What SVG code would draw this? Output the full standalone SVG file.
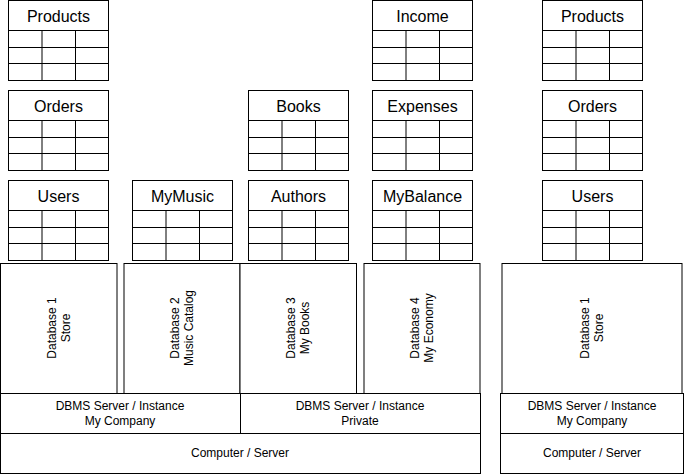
<svg xmlns="http://www.w3.org/2000/svg" xmlns:xlink="http://www.w3.org/1999/xlink" width="685" height="475" viewBox="0 0 685 475">
<style>
.b{fill:#fff;stroke:#000;stroke-width:1}
.g{fill:none;stroke:#000;stroke-width:1}
.h{font-family:"Liberation Sans",Arial,sans-serif;font-size:16px;fill:#000;text-anchor:middle}
.t{font-family:"Liberation Sans",Arial,sans-serif;font-size:12px;fill:#000;text-anchor:middle}
</style>
<defs>
<g id="tbl">
<rect class="b" x="0.5" y="0.5" width="100" height="80"/>
<path class="g" d="M0.5 30.5H100.5M0.5 47.5H100.5M0.5 63.5H100.5M34 30.5V80.5M67.5 30.5V80.5"/>
</g>
</defs>
<rect width="685" height="475" fill="#fff"/>
<g id="connectors"/>
<g id="t-products1"><use xlink:href="#tbl" x="8" y="0"/><text class="h" x="58.5" y="22">Products</text></g>
<g id="t-orders1"><use xlink:href="#tbl" x="8" y="90"/><text class="h" x="58.5" y="112">Orders</text></g>
<g id="t-users1"><use xlink:href="#tbl" x="8" y="180"/><text class="h" x="58.5" y="202">Users</text></g>
<g id="t-mymusic"><use xlink:href="#tbl" x="132" y="180"/><text class="h" x="182.5" y="202">MyMusic</text></g>
<g id="t-books"><use xlink:href="#tbl" x="248" y="90"/><text class="h" x="298.5" y="112">Books</text></g>
<g id="t-authors"><use xlink:href="#tbl" x="248" y="180"/><text class="h" x="298.5" y="202">Authors</text></g>
<g id="t-income"><use xlink:href="#tbl" x="372" y="0"/><text class="h" x="422.5" y="22">Income</text></g>
<g id="t-expenses"><use xlink:href="#tbl" x="372" y="90"/><text class="h" x="422.5" y="112">Expenses</text></g>
<g id="t-mybalance"><use xlink:href="#tbl" x="372" y="180"/><text class="h" x="422.5" y="202">MyBalance</text></g>
<g id="t-products2"><use xlink:href="#tbl" x="542" y="0"/><text class="h" x="592.5" y="22">Products</text></g>
<g id="t-orders2"><use xlink:href="#tbl" x="542" y="90"/><text class="h" x="592.5" y="112">Orders</text></g>
<g id="t-users2"><use xlink:href="#tbl" x="542" y="180"/><text class="h" x="592.5" y="202">Users</text></g>

<g id="db1"><rect class="b" x="0.5" y="263.5" width="116.5" height="130"/>
<g transform="translate(59,328) rotate(-90)"><text class="t" x="0" y="-3">Database 1</text><text class="t" x="0" y="11">Store</text></g></g>
<g id="db2"><rect class="b" x="124" y="263.5" width="116" height="130"/>
<g transform="translate(182,328) rotate(-90)"><text class="t" x="0" y="-3">Database 2</text><text class="t" x="0" y="11">Music Catalog</text></g></g>
<g id="db3"><rect class="b" x="240" y="263.5" width="116.5" height="130"/>
<g transform="translate(298,328) rotate(-90)"><text class="t" x="0" y="-3">Database 3</text><text class="t" x="0" y="11">My Books</text></g></g>
<g id="db4"><rect class="b" x="364" y="263.5" width="116" height="130"/>
<g transform="translate(422,328) rotate(-90)"><text class="t" x="0" y="-3">Database 4</text><text class="t" x="0" y="11">My Economy</text></g></g>
<g id="db1b"><rect class="b" x="502" y="263.5" width="180" height="130"/>
<g transform="translate(592,328) rotate(-90)"><text class="t" x="0" y="-3">Database 1</text><text class="t" x="0" y="11">Store</text></g></g>

<g id="dbms1"><rect class="b" x="0.5" y="393.5" width="240" height="40"/>
<text class="t" x="120" y="410">DBMS Server / Instance</text><text class="t" x="120" y="425">My Company</text></g>
<g id="dbms2"><rect class="b" x="240.5" y="393.5" width="240" height="40"/>
<text class="t" x="360" y="410">DBMS Server / Instance</text><text class="t" x="360" y="425">Private</text></g>
<g id="dbms3"><rect class="b" x="500.5" y="393.5" width="183" height="40"/>
<text class="t" x="592" y="410">DBMS Server / Instance</text><text class="t" x="592" y="425">My Company</text></g>

<g id="computer1"><rect class="b" x="0.5" y="433.5" width="480" height="40"/>
<text class="t" x="240" y="457">Computer / Server</text></g>
<g id="computer2"><rect class="b" x="500.5" y="433.5" width="183" height="40"/>
<text class="t" x="592" y="457">Computer / Server</text></g>
</svg>
